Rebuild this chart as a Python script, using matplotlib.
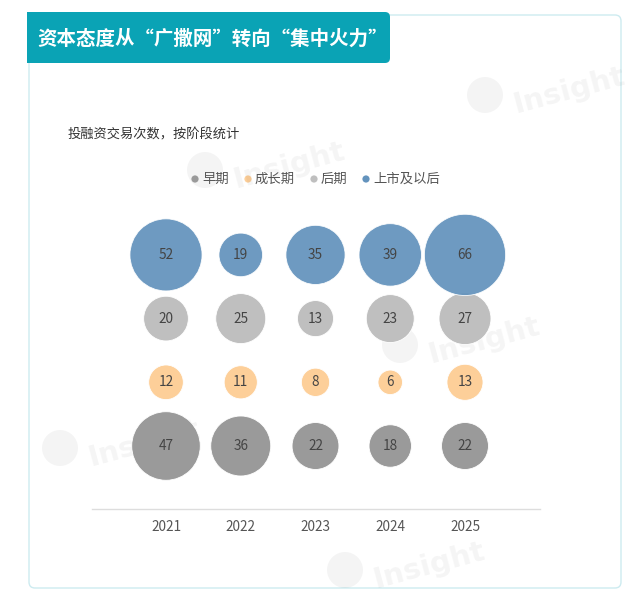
import matplotlib
matplotlib.use("Agg")
import matplotlib.pyplot as plt
from matplotlib.patches import FancyBboxPatch, Rectangle
import numpy as np

plt.rcParams['font.family'] = ['Noto Sans CJK SC', 'DejaVu Sans']

years = ['2021', '2022', '2023', '2024', '2025']
stages = ['早期', '成长期', '后期', '上市及以后']
early = [47, 36, 22, 18, 22]
growth = [12, 11, 8, 6, 13]
late = [20, 25, 13, 23, 27]
listed = [52, 19, 35, 39, 66]
series = [early, growth, late, listed]
colors = ['#9a9a9a', '#fdcf99', '#bfbfbf', '#6393bd']
alphas = [1.0, 1.0, 1.0, 0.93]

W, H = 640, 599
fig = plt.figure(figsize=(W / 100, H / 100), dpi=100)
fig.patch.set_facecolor('white')

# background overlay axes in pixel coordinates
bg = fig.add_axes([0, 0, 1, 1], zorder=0)
bg.set_xlim(0, W)
bg.set_ylim(H, 0)
bg.axis('off')

# card
bg.add_patch(FancyBboxPatch((29, 15), 592, 573, boxstyle="round,pad=0,rounding_size=6",
                            fc='white', ec='#cdebf0', lw=1.0))
# title banner
bg.add_patch(FancyBboxPatch((27, 12), 363, 51, boxstyle="round,pad=0,rounding_size=5",
                            fc='#0aa3b5', ec='none'))
bg.add_patch(Rectangle((27, 12), 20, 51, fc='#0aa3b5', ec='none'))
bg.text(37, 39, '资本态度从“广撒网”转向“集中火力”', color='white', fontsize=14,
        fontweight='bold', va='center', ha='left')

# watermarks (faint decoration)
wm = [(470, 95), (190, 170), (385, 345), (45, 448), (330, 570)]
for x, y in wm:
    bg.add_patch(plt.Circle((x + 15, y), 18, fc='#000000', alpha=0.045, ec='none'))
    bg.text(x + 40, y - 4, 'Insight', fontsize=21, fontweight='bold', color='#000000',
            alpha=0.045, rotation=15, va='center', ha='left', family='DejaVu Sans')

# subtitle
bg.text(68, 135, '投融资交易次数，按阶段统计', fontsize=9.5, color='#333333', va='center', ha='left')

# legend
leg_items = [(195, '早期'), (248, '成长期'), (314, '后期'), (366, '上市及以后')]
for (x, name), c in zip(leg_items, colors):
    bg.add_patch(plt.Circle((x, 179), 3.6, fc=c, ec='none'))
    bg.text(x + 7, 179, name, fontsize=9.6, color='#555555', va='center', ha='left')

# main axes
left_px, right_px, bot_px, top_px = 92, 540, 509, 200
ax = fig.add_axes([left_px / W, (H - bot_px) / H, (right_px - left_px) / W, (bot_px - top_px) / H], zorder=2)
ax.patch.set_alpha(0)
xs = np.arange(len(years))
dx = 74.75
ax.set_xlim(-(166 - left_px) / dx, (right_px - 166) / dx)
dy = 63.7
ax.set_ylim((446 - bot_px) / dy, (446 - top_px) / dy)

k = 10.0 * 0.72  # diameter in points per sqrt(value)
for i, (vals, c, a) in enumerate(zip(series, colors, alphas)):
    vals = np.array(vals)
    ax.scatter(xs, np.full(len(xs), i), s=(k ** 2) * vals, c=c, alpha=a,
               edgecolors='white', linewidths=0.6, zorder=3 + i)
    for x, v in zip(xs, vals):
        ax.text(x, i, str(v), ha='center', va='center', fontsize=9.8, color='#444444', zorder=10)

for s in ['left', 'right', 'top']:
    ax.spines[s].set_visible(False)
ax.spines['bottom'].set_color('#dddddd')
ax.spines['bottom'].set_linewidth(1)
ax.set_yticks([])
ax.set_xticks(xs)
ax.set_xticklabels(years, fontsize=9.8, color='#555555')
ax.tick_params(axis='x', length=0, pad=8)

fig.savefig('out.png', dpi=100, facecolor='white')
